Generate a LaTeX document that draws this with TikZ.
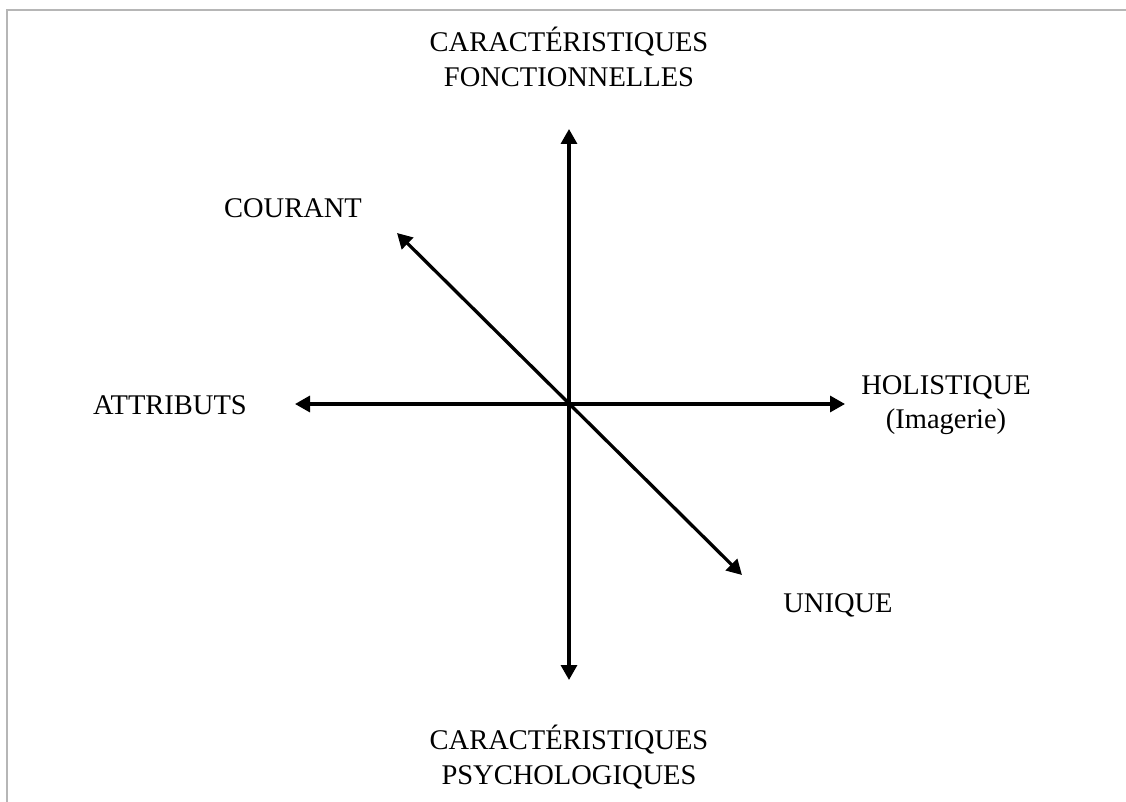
\documentclass[tikz,border=0pt]{standalone}
\usepackage{fontspec}
\setmainfont{Liberation Serif}
\usetikzlibrary{arrows.meta}
\definecolor{framegray}{RGB}{182,182,182}
\tikzset{
  axis/.style={line width=3.3pt, {Triangle[length=15pt,width=16pt]}-{Triangle[length=15pt,width=16pt]}},
  lbl/.style={font=\fontsize{28.5pt}{34.5pt}\selectfont, inner sep=0pt, align=center},
}
\begin{document}
\begin{tikzpicture}[x=1pt,y=-1pt]
\useasboundingbox (0,0) rectangle (1126,802);
\fill[white] (0,0) rectangle (1126,802);
\draw[framegray, line width=2pt] (7,812) -- (7,10) -- (1136,10);
\coordinate (top) at (569,129);
\coordinate (bot) at (569,680);
\coordinate (lft) at (295,404);
\coordinate (rgt) at (845,404);
\coordinate (ul) at (397,233);
\coordinate (lr) at (742,575);
\draw[axis] (bot) -- (top);
\draw[axis] (lft) -- (rgt);
\draw[axis] (ul) -- (lr);
\node[lbl] (tlab) at (569,57) {CARACTÉRISTIQUES\\FONCTIONNELLES};
\node[lbl] (blab) at (569,757) {CARACTÉRISTIQUES\\PSYCHOLOGIQUES};
\node[lbl] (cour) at (293,208) {COURANT};
\node[lbl] (attr) at (170,405) {ATTRIBUTS};
\node[lbl] (holi) at (946,405) {HOLISTIQUE\\(Imagerie)};
\node[lbl] (uniq) at (838,605) {UNIQUE};
\end{tikzpicture}
\end{document}
